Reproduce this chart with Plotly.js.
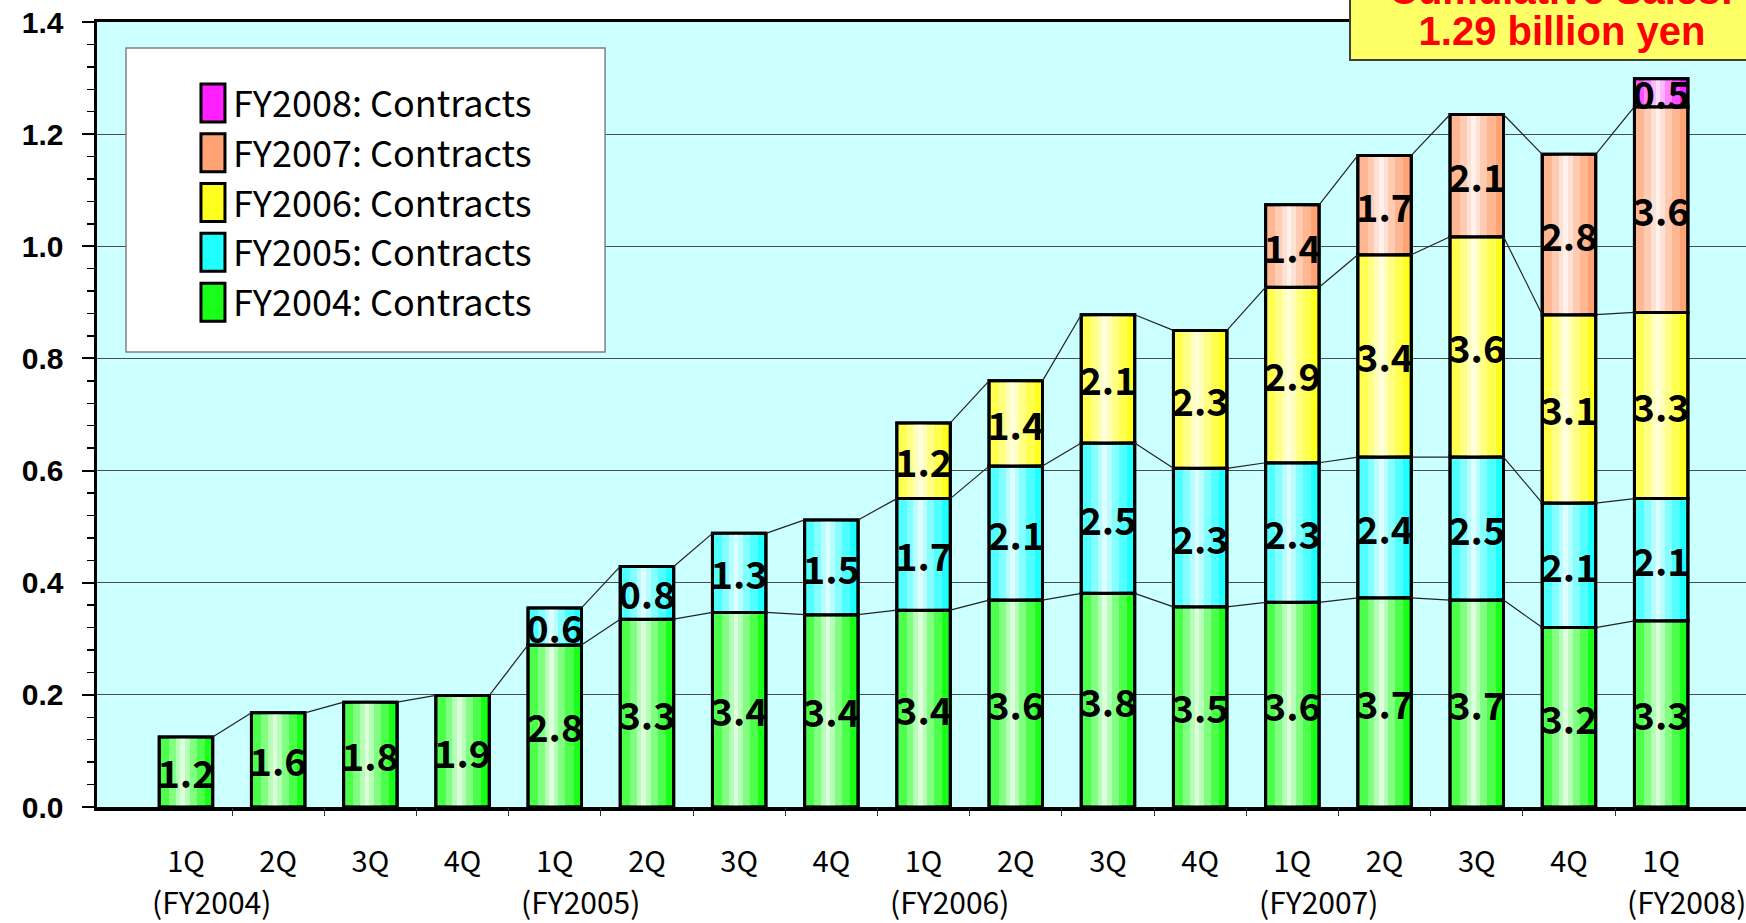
<!DOCTYPE html>
<html>
<head>
<meta charset="utf-8">
<script src="https://cdn.plot.ly/plotly-3.0.1.min.js"></script>
<style>
  html, body { margin: 0; padding: 0; background: #ffffff; overflow: hidden; }
  #chart { width: 1746px; height: 923px; }
</style>
</head>
<body>
<div id="chart"></div>
<script>
// ---------------- data (billion yen) ----------------
const quarters = ['1Q','2Q','3Q','4Q','1Q','2Q','3Q','4Q','1Q','2Q','3Q','4Q','1Q','2Q','3Q','4Q','1Q'];
const fiscalYears = ['FY2004','FY2004','FY2004','FY2004','FY2005','FY2005','FY2005','FY2005',
                     'FY2006','FY2006','FY2006','FY2006','FY2007','FY2007','FY2007','FY2007','FY2008'];

const fy2004 = [0.125,0.168,0.187,0.199,0.289,0.335,0.347,0.343,0.351,0.369,0.381,0.357,0.365,0.373,0.369,0.320,0.332];
const fy2005 = [null,null,null,null,0.066,0.094,0.141,0.169,0.199,0.239,0.268,0.247,0.249,0.251,0.255,0.222,0.218];
const fy2006 = [null,null,null,null,null,null,null,null,0.135,0.152,0.229,0.246,0.313,0.361,0.393,0.336,0.332];
const fy2007 = [null,null,null,null,null,null,null,null,null,null,null,null,0.147,0.177,0.218,0.286,0.367];
const fy2008 = [null,null,null,null,null,null,null,null,null,null,null,null,null,null,null,null,0.050];

const lab2004 = ['1.2','1.6','1.8','1.9','2.8','3.3','3.4','3.4','3.4','3.6','3.8','3.5','3.6','3.7','3.7','3.2','3.3'];
const lab2005 = [null,null,null,null,'0.6','0.8','1.3','1.5','1.7','2.1','2.5','2.3','2.3','2.4','2.5','2.1','2.1'];
const lab2006 = [null,null,null,null,null,null,null,null,'1.2','1.4','2.1','2.3','2.9','3.4','3.6','3.1','3.3'];
const lab2007 = [null,null,null,null,null,null,null,null,null,null,null,null,'1.4','1.7','2.1','2.8','3.6'];
const lab2008 = [null,null,null,null,null,null,null,null,null,null,null,null,null,null,null,null,'0.5'];

const seriesNames = ['FY2004: Contracts','FY2005: Contracts','FY2006: Contracts','FY2007: Contracts','FY2008: Contracts'];
const seriesValues = [fy2004, fy2005, fy2006, fy2007, fy2008];
const seriesLabels = [lab2004, lab2005, lab2006, lab2007, lab2008];

const totalTitle = 'Cumulative Sales:';
const totalValue = '1.29 billion yen';

// ---------------- styling ----------------
const seriesColors = ['#19FF19', '#1FFFFF', '#FFFF1F', '#FFA374', '#FF1FFF'];
const CJK = '"Noto Sans CJK JP", "Noto Sans", sans-serif';
const ARIAL = '"Liberation Sans", Arial, sans-serif';
const BAR_W = 0.58;
const HALF = BAR_W / 2;

const n = quarters.length;
const xs = quarters.map((_, i) => i);

// cumulative bases
const bases = [];
let running = new Array(n).fill(0);
seriesValues.forEach(vals => {
  bases.push(running.slice());
  running = running.map((r, i) => r + (vals[i] == null ? 0 : vals[i]));
});

const traces = [];
// highlight layers to mimic the cylindrical gradient of the original bars
const glossLayers = [
  { w: 0.48, a: 0.22 },
  { w: 0.30, a: 0.30 },
  { w: 0.15, a: 0.42 },
  { w: 0.05, a: 0.55 }
];
const glossCenter = -0.035;

seriesValues.forEach((vals, k) => {
  traces.push({
    type: 'bar', x: xs, y: vals, base: bases[k], name: seriesNames[k],
    width: BAR_W, offset: -HALF,
    marker: { color: seriesColors[k], line: { color: '#000000', width: 3 } },
    hovertemplate: '%{y:.3f}<extra>' + seriesNames[k] + '</extra>'
  });
  glossLayers.forEach(g => {
    traces.push({
      type: 'bar', x: xs, y: vals, base: bases[k], showlegend: false, hoverinfo: 'skip',
      width: g.w, offset: glossCenter - g.w / 2,
      marker: { color: 'rgba(255,255,255,' + g.a + ')', line: { width: 0 } }
    });
  });
  traces.push({
    type: 'bar', x: xs, y: vals, base: bases[k], showlegend: false, hoverinfo: 'skip',
    width: BAR_W, offset: -HALF,
    marker: { color: 'rgba(0,0,0,0)', line: { color: '#000000', width: 3 } },
    text: seriesLabels[k], textposition: 'inside', insidetextanchor: 'middle',
    textangle: 0, constraintext: 'none',
    textfont: { family: CJK, size: 38, color: '#000000', weight: 'bold' }
  });
});

// series lines connecting the tops of each segment between neighbouring bars
seriesValues.forEach((vals, k) => {
  const lx = [], ly = [];
  for (let i = 0; i < n - 1; i++) {
    if (vals[i] != null && vals[i + 1] != null) {
      lx.push(i + HALF, i + 1 - HALF, null);
      ly.push(bases[k][i] + vals[i], bases[k][i + 1] + vals[i + 1], null);
    }
  }
  traces.push({
    type: 'scatter', mode: 'lines', x: lx, y: ly, xaxis: 'x2', yaxis: 'y',
    showlegend: false, hoverinfo: 'skip',
    line: { color: '#222222', width: 1.2 }
  });
});

// fiscal-year group labels under the first quarter of each year
const annotations = [];
quarters.forEach((q, i) => {
  if (q === '1Q') {
    annotations.push({
      xref: 'x', yref: 'paper', x: i + 0.28, y: -0.1197,
      text: '(' + fiscalYears[i] + ')', showarrow: false,
      xanchor: 'center', yanchor: 'middle',
      font: { family: CJK, size: 30, color: '#000000' }
    });
  }
});
// cumulative total call-out (box runs off the top of the page, as in the original)
annotations.push({
  xref: 'paper', yref: 'paper', x: 0.8884, y: 0.9503,
  xanchor: 'center', yanchor: 'bottom', showarrow: false,
  text: totalValue, align: 'center', width: 410, height: 90, valign: 'bottom',
  font: { family: ARIAL, size: 40, color: '#FF0000', weight: 'bold' },
  bgcolor: '#FFFF66', bordercolor: '#404040', borderwidth: 2, borderpad: 6
});
annotations.push({
  xref: 'paper', yref: 'paper', x: 0.8884, y: 1.0125,
  xanchor: 'center', yanchor: 'bottom', showarrow: false,
  text: totalTitle, align: 'center',
  font: { family: ARIAL, size: 40, color: '#FF0000', weight: 'bold' },
  bgcolor: 'rgba(0,0,0,0)', borderwidth: 0, borderpad: 0
});

const boundaries = xs.slice(0, n - 1).map(i => i + 0.5);
const xRange = [-0.965, 16.92];

const layout = {
  width: 1746, height: 923,
  margin: { l: 97, r: 0, t: 22, b: 116, pad: 0 },
  paper_bgcolor: '#ffffff', plot_bgcolor: '#CCFFFF',
  barmode: 'overlay', bargap: 0,
  showlegend: true,
  legend: {
    x: 0.0582, y: 0.935, xanchor: 'left', yanchor: 'top',
    bgcolor: 'rgba(0,0,0,0)', borderwidth: 0, traceorder: 'reversed',
    font: { family: CJK, size: 36, color: '#000000' },
    itemclick: false, itemdoubleclick: false
  },
  xaxis: {
    range: xRange, tickmode: 'array', tickvals: xs, ticktext: quarters,
    ticks: '', ticklabelstandoff: 27, showgrid: false, zeroline: false,
    showline: true, linecolor: '#000000', linewidth: 3.5, mirror: true,
    tickfont: { family: CJK, size: 29, color: '#000000' }, fixedrange: true
  },
  xaxis2: {
    overlaying: 'x', matches: 'x', range: xRange, side: 'bottom', anchor: 'y',
    tickmode: 'array', tickvals: boundaries, showticklabels: false,
    ticks: 'outside', ticklen: 8, tickwidth: 1, tickcolor: '#333333',
    showgrid: false, zeroline: false, showline: false, fixedrange: true
  },
  yaxis: {
    range: [0, 1.4], dtick: 0.2, tick0: 0, tickformat: '.1f',
    ticks: 'outside', ticklen: 12, tickwidth: 2, tickcolor: '#000000',
    ticklabelstandoff: 12,
    minor: { dtick: 0.04, ticks: 'outside', ticklen: 7, tickwidth: 1.5, tickcolor: '#000000', showgrid: false },
    showgrid: true, gridcolor: '#4d4d4d', gridwidth: 1, zeroline: false,
    showline: true, linecolor: '#000000', linewidth: 3.5,
    tickfont: { family: ARIAL, size: 30, color: '#000000', weight: 'bold' }, fixedrange: true
  },
  shapes: [{
    type: 'rect', xref: 'paper', yref: 'paper', layer: 'above',
    x0: 0.0176, x1: 0.3081, y0: 0.5796, y1: 0.9669,
    fillcolor: '#ffffff', line: { color: '#808080', width: 1.5 }
  }],
  annotations: annotations
};

Plotly.newPlot('chart', traces, layout, { displayModeBar: false, staticPlot: true }).then(gd => {
  // enlarge the legend swatches to the tall rectangles of the original
  gd.querySelectorAll('.legend .legendpoints path').forEach(p => {
    p.setAttribute('d', 'M12,19H-12V-19H12Z');
  });
});
</script>
</body>
</html>
